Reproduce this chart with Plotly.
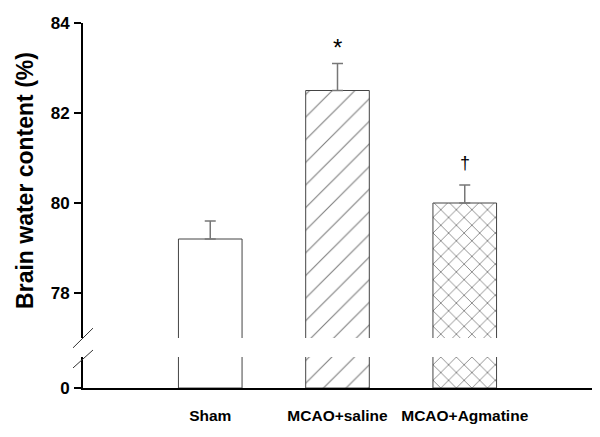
import plotly.graph_objects as go

categories = ["Sham", "MCAO+saline", "MCAO+Agmatine"]
means = [79.2, 82.5, 80.0]
sem = [0.4, 0.6, 0.4]
patterns = ["", "/", "x"]
sig_marks = ["", "*", "†"]
sig_y = [None, 83.45, 80.9]
y_ticks_top = [78, 80, 82, 84]

FONT = "Arial, Liberation Sans, sans-serif"
xpos = list(range(len(categories)))

bar_marker = dict(color="white", line=dict(color="#444444", width=1),
                  pattern=dict(shape=patterns, fgcolor="black", bgcolor="white",
                               size=[10, 16, 11], solidity=[0.1, 0.07, 0.15]))

fig = go.Figure()
# upper (broken) part
fig.add_trace(go.Bar(
    x=xpos, y=means, width=0.5, xaxis="x", yaxis="y", marker=bar_marker,
    error_y=dict(type="data", array=sem, arrayminus=[0, 0, 0], symmetric=False,
                 color="#777777", thickness=1.5, width=5.5),
    showlegend=False, hoverinfo="skip"))
# lower part (from 0)
fig.add_trace(go.Bar(
    x=xpos, y=means, width=0.5, xaxis="x", yaxis="y2", marker=bar_marker,
    showlegend=False, hoverinfo="skip"))

for i, (m, yv) in enumerate(zip(sig_marks, sig_y)):
    if m:
        fig.add_annotation(x=xpos[i], y=yv, xref="x", yref="y", text=m, showarrow=False,
                           font=dict(family=FONT, size=24 if m == "*" else 18, color="black"))

# break marks
for y0, y1 in [(0.110, 0.164), (0.055, 0.104)]:
    fig.add_shape(type="line", xref="paper", yref="paper", x0=-0.0196, x1=0.0196,
                  y0=y0, y1=y1, line=dict(color="#333333", width=1))

fig.update_layout(
    width=600, height=437,
    margin=dict(l=83, r=8, t=23, b=49),
    paper_bgcolor="white", plot_bgcolor="white",
    font=dict(family=FONT, color="black"),
    xaxis=dict(range=[-1, 3], anchor="y2", tickvals=xpos, ticktext=categories,
               showline=True, linecolor="black", linewidth=2, ticks="",
               showgrid=False, zeroline=False,
               tickfont=dict(family=FONT, size=15.5, color="black", weight="bold"),
               ticklabelstandoff=12),
    yaxis=dict(domain=[0.137, 1], range=[77, 84], tickvals=y_ticks_top,
               showline=True, linecolor="black", linewidth=2, ticks="outside",
               ticklen=7, tickwidth=2, tickcolor="black", showgrid=False, zeroline=False,
               tickfont=dict(family=FONT, size=17, color="black", weight="bold"),
               ticklabelstandoff=1,
               title=dict(text="Brain water content (%)",
                          font=dict(family=FONT, size=23, color="black", weight="bold"),
                          standoff=11)),
    yaxis2=dict(domain=[0, 0.085], range=[0, 1], tickvals=[0],
                showline=True, linecolor="black", linewidth=2, ticks="outside",
                ticklen=7, tickwidth=2, tickcolor="black", showgrid=False, zeroline=False,
                tickfont=dict(family=FONT, size=17, color="black", weight="bold"),
                ticklabelstandoff=1),
)

fig.write_html("out.html", config={"displayModeBar": False},
               post_script="document.body.style.margin='0';")
